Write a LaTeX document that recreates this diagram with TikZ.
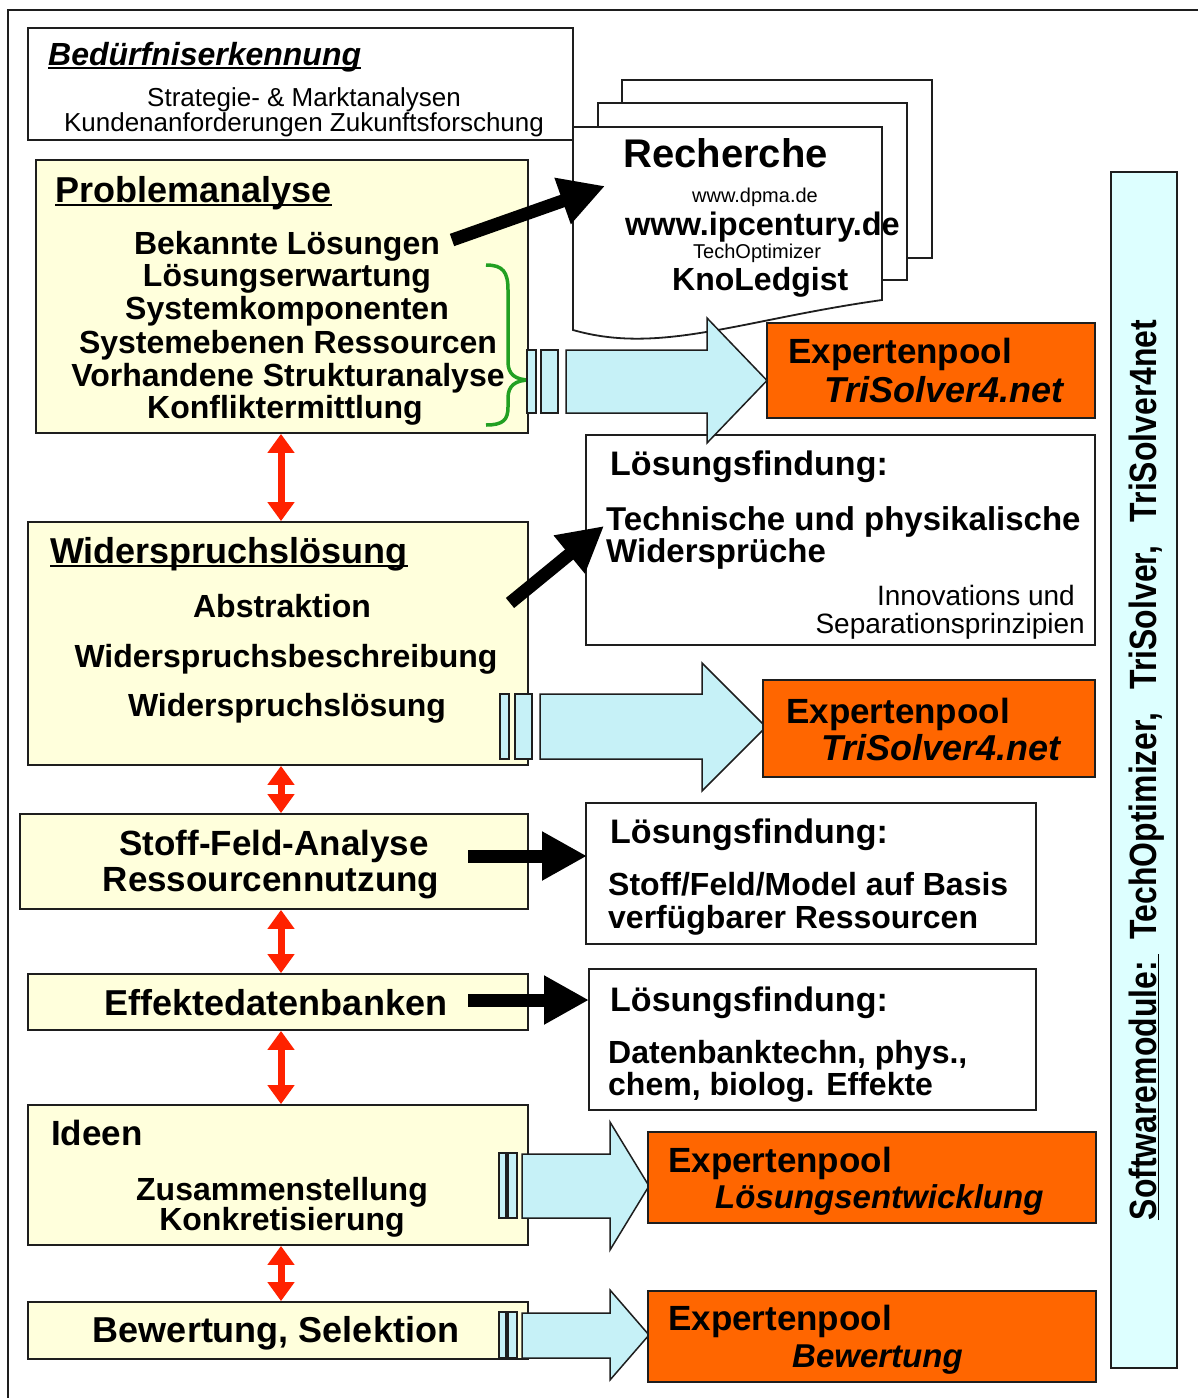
\documentclass[tikz,border=0pt]{standalone}
\usepackage{fontspec}
\usepackage{graphicx}
\setmainfont{Liberation Sans}
\usetikzlibrary{arrows.meta}
\definecolor{ylw}{HTML}{FFFFDC}
\definecolor{cyn}{HTML}{C6F1F7}
\definecolor{vcyn}{HTML}{DDFFFF}
\definecolor{orng}{HTML}{FF6600}
\definecolor{redar}{HTML}{FF2200}
\definecolor{grn}{HTML}{22A022}
\definecolor{edge}{HTML}{1E1E1E}
\newcommand\myfs[1]{\fontsize{#1}{#1}\selectfont}
\newcommand\myblockarrow[7]{%
  \draw[cyanshape] (#1,#4) -- (#2,#4) -- (#2,#6) -- (#3,{(#6+#7)/2}) -- (#2,#7) -- (#2,#5) -- (#1,#5) -- cycle;}
\tikzset{
  yb/.style={draw=edge, line width=1.8pt, fill=ylw, inner sep=0pt},
  ob/.style={draw=edge, line width=1.8pt, fill=orng, inner sep=0pt},
  sheet/.style={draw=edge, line width=1.8pt, fill=white},
  cyanshape/.style={draw=edge, line width=1.5pt, fill=cyn, line join=miter},
  tx/.style={inner sep=0pt, font=\bfseries\myfs{#1}},
  txr/.style={inner sep=0pt, font=\myfs{#1}},
  ulin/.style={draw=black, line width=1.8pt},
  blackarrow/.style={draw=black, line width=13pt, -{Triangle[length=45pt,width=46pt]}},
  redarrow/.style={draw=redar, line width=7pt, {Triangle[length=19pt,width=26pt]}-{Triangle[length=19pt,width=26pt]}},
}
\begin{document}
\begin{tikzpicture}[x=1pt,y=-1pt]
\useasboundingbox[fill=white] (0,0) rectangle (1198,1398);
% outer frame
\coordinate (fbl) at (8,1398);
\coordinate (ftl) at (8,10);
\coordinate (ftr) at (1198,10);
\draw[draw=edge, line width=1.8pt] (fbl) -- (ftl) -- (ftr);

% Beduerfniserkennung
\node[draw=edge, line width=1.8pt, fill=white, inner sep=0pt, minimum width=545pt, minimum height=112pt] (bed) at (300.5,84) {};
\node[inner sep=0pt, font=\bfseries\itshape\myfs{32}, anchor=base west] (tbed) at (48,65) {Bedürfniserkennung};
\draw[ulin] ([yshift=-3pt]tbed.base west) -- ([yshift=-3pt]tbed.base east);
\node[txr=26, anchor=base] (bed1) at (304,106) {Strategie- \& Marktanalysen};
\node[txr=26, anchor=base] (bed2) at (304,131) {Kundenanforderungen Zukunftsforschung};

% Recherche sheets
\draw[sheet] (622,80) rectangle (932,258);
\draw[sheet] (598,103) rectangle (907,280);
\draw[sheet] (573,127) -- (882,127) -- (882,300) .. controls (740,320) and (660,355) .. (573,330) -- cycle;
\node[tx=40, anchor=base west] (rech) at (623,167) {Recherche};
\node[txr=20, anchor=base west] (dpma) at (692,202) {www.dpma.de};
\node[tx=32.5, anchor=base west] (ipc) at (625,235) {www.ipcentury.de};
\node[txr=20, anchor=base west] (techo) at (693,258) {TechOptimizer};
\node[tx=32, anchor=base west] (knol) at (672,290) {KnoLedgist};

% Problemanalyse
\node[yb, minimum width=492pt, minimum height=273pt] (prob) at (282,296.5) {};
\node[tx=36, anchor=base west] (tprob) at (55,202) {Problemanalyse};
\draw[ulin] ([yshift=-3pt]tprob.base west) -- ([yshift=-3pt]tprob.base east);
\node[tx=32, anchor=base] (p1) at (287,254) {Bekannte Lösungen};
\node[tx=32, anchor=base] (p2) at (287,286) {Lösungserwartung};
\node[tx=32, anchor=base] (p3) at (287,319) {Systemkomponenten};
\node[tx=32, anchor=base] (p4) at (288,353) {Systemebenen Ressourcen};
\node[tx=32, anchor=base] (p5) at (288,386) {Vorhandene Strukturanalyse};
\node[tx=32, anchor=base] (p6) at (285,418) {Konfliktermittlung};
% green brace
\draw[grn, line width=3.5pt] (486,265) .. controls (503,265) and (508,272) .. (508,290) -- (508,362) .. controls (508,374) and (515,380) .. (530,380) .. controls (515,380) and (508,386) .. (508,398) -- (508,407) .. controls (508,420) and (503,425) .. (486,425);

% black arrow 1
\coordinate (a1s) at (452,240);
\coordinate (a1e) at (605,186);
\draw[blackarrow] (a1s) -- (a1e);

% Loesungsfindung 1
\node[draw=edge, line width=1.8pt, fill=white, inner sep=0pt, minimum width=509pt, minimum height=210pt] (lf1) at (840.5,540) {};
\node[tx=34, anchor=base west] (lf1a) at (610,475) {Lösungsfindung:};
\node[tx=33, anchor=base west] (lf1b) at (606,530) {Technische und physikalische};
\node[tx=33, anchor=base west] (lf1c) at (606,562) {Widersprüche};
\node[txr=28, anchor=base east] (lf1d) at (1075,605) {Innovations und};
\node[txr=28, anchor=base east] (lf1e) at (1085,633) {Separationsprinzipien};

% cyan arrow 1
\draw[cyanshape] (527,350) rectangle (536,413);
\draw[cyanshape] (541,350) rectangle (558,413);
\myblockarrow{566}{707}{767}{350}{413}{318}{443}
\node[ob, minimum width=328pt, minimum height=95pt] (ex1) at (931,370.5) {};
\node[tx=35, anchor=base west] (ex1a) at (788,363) {Expertenpool};
\node[inner sep=0pt, font=\bfseries\itshape\myfs{36}, anchor=base west] (ex1b) at (824,402) {TriSolver4.net};

% Widerspruchsloesung
\node[yb, minimum width=500pt, minimum height=243pt] (wid) at (278,643.5) {};
\node[tx=36, anchor=base west] (twid) at (50,563) {Widerspruchslösung};
\draw[ulin] ([yshift=-3pt]twid.base west) -- ([yshift=-3pt]twid.base east);
\node[tx=32, anchor=base] (w1) at (282,617) {Abstraktion};
\node[tx=32, anchor=base] (w2) at (286,667) {Widerspruchsbeschreibung};
\node[tx=32, anchor=base] (w3) at (287,716) {Widerspruchslösung};
\coordinate (a2s) at (510,603);
\coordinate (a2e) at (604,526);
\draw[blackarrow] (a2s) -- (a2e);
\draw[cyanshape] (500,694) rectangle (509,759);
\draw[cyanshape] (515,694) rectangle (532,759);
\myblockarrow{540}{702}{766}{694}{759}{663}{791}
\node[ob, minimum width=332pt, minimum height=97pt] (ex2) at (929,728.5) {};
\node[tx=35, anchor=base west] (ex2a) at (786,723) {Expertenpool};
\node[inner sep=0pt, font=\bfseries\itshape\myfs{36}, anchor=base west] (ex2b) at (821,760) {TriSolver4.net};

% Stoff-Feld-Analyse
\node[yb, minimum width=508pt, minimum height=95pt] (stoff) at (274,861.5) {};
\node[tx=35, anchor=base] (s1) at (274,855) {Stoff-Feld-Analyse};
\node[tx=35, anchor=base] (s2) at (271,891) {Ressourcennutzung};
\node[draw=edge, line width=1.8pt, fill=white, inner sep=0pt, minimum width=450pt, minimum height=141pt] (lf2) at (811,873.5) {};
\node[tx=34, anchor=base west] (lf2a) at (610,843) {Lösungsfindung:};
\node[tx=32, anchor=base west] (lf2b) at (608,895) {Stoff/Feld/Model auf Basis};
\node[tx=32, anchor=base west] (lf2c) at (608,928) {verfügbarer Ressourcen};
\coordinate (a3s) at (468,856);
\coordinate (a3e) at (587,856);
\draw[blackarrow] (a3s) -- (a3e);

% Effektedatenbanken
\node[yb, minimum width=500pt, minimum height=56pt] (eff) at (278,1002) {};
\node[tx=36, anchor=base] (e1) at (276,1015) {Effektedatenbanken};
\node[draw=edge, line width=1.8pt, fill=white, inner sep=0pt, minimum width=447pt, minimum height=141pt] (lf3) at (812.5,1039.5) {};
\node[tx=34, anchor=base west] (lf3a) at (610,1011) {Lösungsfindung:};
\node[tx=32, anchor=base west] (lf3b) at (608,1063) {Datenbanktechn, phys.,};
\node[tx=32, anchor=base west] (lf3c) at (608,1095) {chem, biolog. Effekte};
\coordinate (a4s) at (468,1000);
\coordinate (a4e) at (589,1000);
\draw[blackarrow] (a4s) -- (a4e);

% Ideen
\node[yb, minimum width=500pt, minimum height=140pt] (ideen) at (278,1175) {};
\node[tx=35, anchor=base west] (i0) at (51,1145) {Ideen};
\node[tx=32, anchor=base] (i1) at (282,1200) {Zusammenstellung};
\node[tx=32, anchor=base] (i2) at (282,1230) {Konkretisierung};
\draw[cyanshape] (499,1153) rectangle (506,1218);
\draw[cyanshape] (508,1153) rectangle (517,1218);
\myblockarrow{522}{610}{649}{1154}{1218}{1122}{1250}
\node[ob, minimum width=448pt, minimum height=91pt] (ex3) at (872,1177.5) {};
\node[tx=35, anchor=base west] (ex3a) at (668,1172) {Expertenpool};
\node[inner sep=0pt, font=\bfseries\itshape\myfs{33}, anchor=base west] (ex3b) at (715,1208) {Lösungsentwicklung};

% Bewertung
\node[yb, minimum width=500pt, minimum height=57pt] (bew) at (278,1330.5) {};
\node[tx=36, anchor=base] (b1) at (276,1342) {Bewertung, Selektion};
\draw[cyanshape] (499,1312) rectangle (506,1358);
\draw[cyanshape] (508,1312) rectangle (517,1358);
\myblockarrow{522}{610}{649}{1313}{1358}{1290}{1380}
\node[ob, minimum width=448pt, minimum height=91pt] (ex4) at (872,1336.5) {};
\node[tx=35, anchor=base west] (ex4a) at (668,1330) {Expertenpool};
\node[inner sep=0pt, font=\bfseries\itshape\myfs{33}, anchor=base west] (ex4b) at (792,1367) {Bewertung};

% red double arrows
\coordinate (rx) at (281,0);
\draw[redarrow] (prob.south -| rx) -- (wid.north -| rx);
\draw[redarrow] (wid.south -| rx) -- (stoff.north -| rx);
\draw[redarrow] (stoff.south -| rx) -- (eff.north -| rx);
\draw[redarrow] (eff.south -| rx) -- (ideen.north -| rx);
\draw[redarrow] (ideen.south -| rx) -- (bew.north -| rx);

% Softwaremodule
\node[draw=edge, line width=1.8pt, fill=vcyn, inner sep=0pt, minimum width=66pt, minimum height=1196pt] (soft) at (1144,770) {};
\node[rotate=90, inner sep=0pt, font=\bfseries\myfs{38}] (softt) at (1147,770) {\scalebox{0.84}[1]{\underline{Softwaremodule:\hspace{8pt}}\hspace{18pt}TechOptimizer,\hspace{28pt}TriSolver,\hspace{28pt}TriSolver4net}};
\end{tikzpicture}
\end{document}
